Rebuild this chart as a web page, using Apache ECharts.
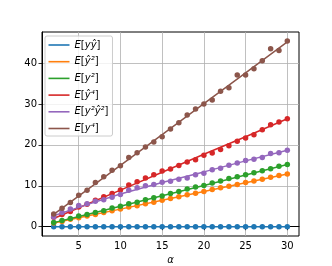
<!DOCTYPE html>
<html><head><meta charset="utf-8">
<script src="https://cdn.jsdelivr.net/npm/echarts@6/dist/echarts.min.js"></script>
<style>html,body{margin:0;padding:0;background:#fff}#c{width:332px;height:266px}</style>
</head><body><div id="c"></div>
<script>
const alphas = [2,3,4,5,6,7,8,9,10,11,12,13,14,15,16,17,18,19,20,21,22,23,24,25,26,27,28,29,30];
const xTicks = [5,10,15,20,25,30];
const yTicks = [0,10,20,30,40];
const names = ['yyhat','yhat2','y2','yhat4','y2yhat2','y4'];
const colors = ['#1f77b4','#ff7f0e','#2ca02c','#d62728','#9467bd','#8c564b'];
const labels = {
  yyhat: '{e|E}{n|[}{i|yŷ}{n|]}',
  yhat2: '{e|E}{n|[}{i|ŷ²}{n|]}',
  y2: '{e|E}{n|[}{i|y²}{n|]}',
  yhat4: '{e|E}{n|[}{i|ŷ⁴}{n|]}',
  y2yhat2: '{e|E}{n|[}{i|y²ŷ²}{n|]}',
  y4: '{e|E}{n|[}{i|y⁴}{n|]}'
};
// empirical points
const ptsYYhat  = [0,0,0,0,0,0,0,0,0,0,0,0,0,0,0,0,0,0,0,0,0,0,0,0,0,0,0,0,0];
const ptsYhat2  = [0.9,1.3,1.8,2.2,2.6,3.0,3.5,3.9,4.3,4.8,5.1,5.6,6.0,6.5,6.9,7.3,7.8,8.2,8.6,9.1,9.5,9.9,10.3,10.8,11.2,11.6,12.1,12.5,12.9];
const ptsY2     = [1.0,1.5,2.0,2.6,3.0,3.5,3.9,4.6,5.0,5.6,6.0,6.6,7.1,7.5,8.1,8.6,9.2,9.7,10.1,10.7,11.2,11.8,12.2,12.7,13.2,13.7,14.2,14.8,15.2];
const ptsYhat4  = [2.3,3.0,3.7,4.8,5.5,6.5,7.3,8.1,9.0,10.2,11.0,11.9,12.7,13.6,14.1,14.95,15.8,16.4,17.5,18.0,18.9,19.8,20.9,21.7,22.5,23.7,24.95,25.6,26.4];
const ptsY2Yhat2= [2.4,3.5,4.3,5.2,5.6,6.2,6.6,7.2,7.9,8.9,9.5,10.0,10.3,10.9,11.1,11.6,11.9,12.7,13.1,13.9,14.3,15.0,15.6,16.2,16.5,16.9,17.9,18.1,18.7];
const ptsY4     = [3.1,4.5,5.9,7.7,8.9,10.8,12.2,13.8,14.9,16.9,18.1,19.5,20.7,22.0,23.9,25.4,27.3,28.8,30.0,31.0,33.1,34.0,37.1,37.1,38.6,40.6,43.5,43.1,45.4];
// theory curves
const curveAlpha = [2,6,10,15,20,25,30];
const curYYhat  = [0,0,0,0,0,0,0];
const curYhat2  = [0.9,2.6,4.3,6.45,8.6,10.75,12.9];
const curY2     = [1.0,3.0,5.0,7.55,10.1,12.65,15.2];
const curYhat4  = [2.0,5.5,8.95,13.3,17.7,22.0,26.4];
const curY2Yhat2= [2.7,5.4,8.0,10.8,13.4,16.1,18.7];
const curY4     = [3.0,9.0,15.0,22.5,30.1,37.6,45.2];

const pts = [ptsYYhat,ptsYhat2,ptsY2,ptsYhat4,ptsY2Yhat2,ptsY4];
const curs = [curYYhat,curYhat2,curY2,curYhat4,curY2Yhat2,curY4];
const zip = (xs, ys) => xs.map((x,i)=>[x, ys[i]]);

const series = [];
names.forEach((n,k)=>{
  series.push({name:n, type:'line', data: zip(curveAlpha, curs[k]), showSymbol:false, symbol:'none',
    lineStyle:{color:colors[k], width:1.5}, itemStyle:{color:colors[k]}, z:2+k*2, silent:true, animation:false});
  series.push({name:n+'_pts', type:'scatter', data: zip(alphas, pts[k]), symbolSize:5.5,
    itemStyle:{color:colors[k], opacity:1}, z:3+k*2, silent:true, animation:false});
});

const font = 'DejaVu Sans';
const chart = echarts.init(document.getElementById('c'), null, {renderer:'canvas'});
chart.setOption({
  animation:false,
  backgroundColor:'#fff',
  grid:{left:42, right:33, top:32, bottom:30, show:true, borderColor:'#000', borderWidth:1, containLabel:false, outerBoundsMode:'none'},
  xAxis:{type:'value', min:0.6, max:31.4,
    axisLine:{show:true, lineStyle:{color:'#000', width:1}},
    axisTick:{show:true, length:3.5, lineStyle:{color:'#000', width:0.8}, customValues:xTicks},
    axisLabel:{customValues:xTicks, color:'#000', fontFamily:font, fontSize:10, margin:5},
    splitLine:{show:true, lineStyle:{color:'#b0b0b0', width:0.8}},
    name:'α', nameLocation:'middle', nameGap:19,
    nameTextStyle:{fontFamily:font, fontStyle:'italic', fontSize:10, color:'#000'}},
  yAxis:{type:'value', min:-2.27, max:47.6,
    axisLine:{show:true, lineStyle:{color:'#000', width:1}},
    axisTick:{show:true, length:3.5, lineStyle:{color:'#000', width:0.8}, customValues:yTicks},
    axisLabel:{customValues:yTicks, color:'#000', fontFamily:font, fontSize:10, margin:5},
    splitLine:{show:true, lineStyle:{color:'#b0b0b0', width:0.8}}},
  legend:{show:true, orient:'vertical', left:45, top:36,
    data: names.map(n=>({name:n, icon:'rect'})),
    itemWidth:21, itemHeight:1.6, itemGap:3.7, itemTextGap:6,
    padding:[2.5,4,1,3.5],
    backgroundColor:'rgba(255,255,255,0.8)', borderColor:'#cccccc', borderWidth:1, borderRadius:2,
    selectedMode:false,
    formatter: n => labels[n],
    textStyle:{fontFamily:font, fontSize:10, color:'#000', lineHeight:13,
      rich:{
        e:{fontFamily:font, fontSize:10, fontStyle:'italic', color:'#000', lineHeight:13},
        n:{fontFamily:font, fontSize:10, color:'#000', lineHeight:13},
        i:{fontFamily:font, fontSize:10, fontStyle:'italic', color:'#000', lineHeight:13}
      }}
  },
  series: series
});
</script></body></html>
